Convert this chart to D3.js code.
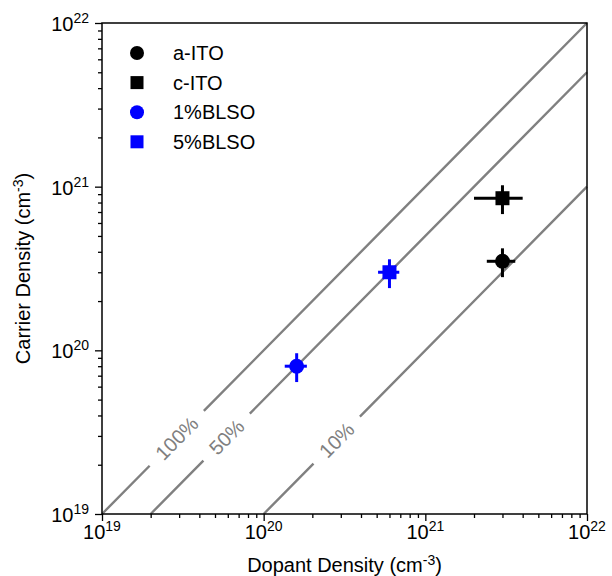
<!DOCTYPE html>
<html>
<head>
<meta charset="utf-8">
<script src="https://cdn.jsdelivr.net/npm/d3@7"></script>
<style>
  body { margin: 0; background: #fff; }
  svg { font-family: "Liberation Sans", Arial, sans-serif; }
</style>
</head>
<body>
<div id="chart"></div>
<script>
// data
const series = ["a-ITO", "c-ITO", "1%BLSO", "5%BLSO"];
const dopant = [3e21, 3e21, 1.6e20, 6e20];
const carrier = [3.5e20, 8.5e20, 8e19, 3e20];
const dopantErr = [0.6e21, 1e21, 0.25e20, 0.9e20];
const carrierErr = [0.7e20, 1.7e20, 1.6e19, 0.6e20];
const shapes = ["circle", "square", "circle", "square"];
const colors = ["#000000", "#000000", "#0000ff", "#0000ff"];

// activation ratio lines  (carrier = ratio * dopant)
const ratios = [1, 0.5, 0.1];
const ratioLabels = ["100%", "50%", "10%"];
const ratioLabelX = [2.9e19, 5.9e19, 2.83e20];

const majorTicks = [1e19, 1e20, 1e21, 1e22];
const tickExps = ["19", "20", "21", "22"];

const W = 612, H = 576;
const margin = {left: 102, right: 25, top: 23, bottom: 62};

const svg = d3.select("#chart").append("svg")
  .attr("width", W)
  .attr("height", H);

const x = d3.scaleLog().domain([1e19, 1e22]).range([margin.left, W - margin.right]);
const y = d3.scaleLog().domain([1e19, 1e22]).range([H - margin.bottom, margin.top]);

// minor ticks 2..9 in each decade
let minor = [];
majorTicks.slice(0, 3).forEach(m => {
  for (let k = 2; k <= 9; k++) minor.push(m * k);
});

// ratio lines with gaps for the inline labels
ratios.forEach((r, i) => {
  let x0 = Math.max(1e19, 1e19 / r);
  let p0 = {x: x(x0), y: y(r * x0)};
  let p1 = {x: x(1e22), y: y(r * 1e22)};
  let len = Math.hypot(p1.x - p0.x, p1.y - p0.y);
  let lc = {x: x(ratioLabelX[i]), y: y(r * ratioLabelX[i])};
  let pos = Math.hypot(lc.x - p0.x, lc.y - p0.y);
  let angle = Math.atan2(p1.y - p0.y, p1.x - p0.x) * 180 / Math.PI;

  let label = svg.append("text")
    .attr("transform", `translate(${lc.x},${lc.y}) rotate(${angle})`)
    .attr("text-anchor", "middle")
    .attr("dominant-baseline", "central")
    .attr("fill", "#808080")
    .style("font-size", "20px")
    .text(ratioLabels[i]);
  let gap = label.node().getComputedTextLength() + 26;

  svg.append("line")
    .attr("x1", p0.x).attr("y1", p0.y)
    .attr("x2", p1.x).attr("y2", p1.y)
    .attr("stroke", "#808080")
    .attr("stroke-width", 2.4)
    .attr("stroke-dasharray", `${pos - gap / 2} ${gap} ${len}`);
});

// axes
const xAxis = svg.append("g")
  .attr("transform", `translate(0,${H - margin.bottom})`)
  .call(d3.axisBottom(x).tickValues(majorTicks).tickFormat("").tickSize(7).tickSizeOuter(0));
const xMinor = svg.append("g")
  .attr("transform", `translate(0,${H - margin.bottom})`)
  .call(d3.axisBottom(x).tickValues(minor).tickFormat("").tickSize(4).tickSizeOuter(0));
const yAxis = svg.append("g")
  .attr("transform", `translate(${margin.left},0)`)
  .call(d3.axisLeft(y).tickValues(majorTicks).tickFormat("").tickSize(7).tickSizeOuter(0));
const yMinor = svg.append("g")
  .attr("transform", `translate(${margin.left},0)`)
  .call(d3.axisLeft(y).tickValues(minor).tickFormat("").tickSize(4).tickSizeOuter(0));

[xAxis, xMinor, yAxis, yMinor].forEach(g => {
  g.select(".domain").remove();
  g.selectAll(".tick line").attr("stroke", "#000").attr("stroke-width", 1.3);
});

// frame
svg.append("rect")
  .attr("x", x(1e19)).attr("y", y(1e22))
  .attr("width", x(1e22) - x(1e19))
  .attr("height", y(1e19) - y(1e22))
  .attr("fill", "none")
  .attr("stroke", "#000")
  .attr("stroke-width", 1.5);

// tick labels with superscript exponents
function powerLabel(sel) {
  sel.append("tspan").text("10");
  sel.append("tspan")
    .attr("dy", -8)
    .style("font-size", "14px")
    .text((d, i) => tickExps[i]);
}

svg.append("g").selectAll("text")
  .data(majorTicks).enter().append("text")
  .attr("x", d => x(d))
  .attr("y", H - margin.bottom + 25)
  .attr("text-anchor", "middle")
  .style("font-size", "20px")
  .call(powerLabel);

svg.append("g").selectAll("text")
  .data(majorTicks).enter().append("text")
  .attr("x", margin.left - 13)
  .attr("y", d => y(d) + 8)
  .attr("text-anchor", "end")
  .style("font-size", "20px")
  .call(powerLabel);

// axis titles
const xt = svg.append("text")
  .attr("x", (x(1e19) + x(1e22)) / 2)
  .attr("y", H - 4)
  .attr("text-anchor", "middle")
  .style("font-size", "20px");
xt.append("tspan").text("Dopant Density (cm");
xt.append("tspan").attr("dy", -7).style("font-size", "14px").text("-3");
xt.append("tspan").attr("dy", 7).text(")");

const yt = svg.append("text")
  .attr("transform", `translate(30,${(y(1e19) + y(1e22)) / 2}) rotate(-90)`)
  .attr("text-anchor", "middle")
  .style("font-size", "20px");
yt.append("tspan").text("Carrier Density (cm");
yt.append("tspan").attr("dy", -7).style("font-size", "14px").text("-3");
yt.append("tspan").attr("dy", 7).text(")");

// marker helper
function marker(g, shape, color, cx, cy, s) {
  if (shape === "circle") {
    g.append("circle").attr("cx", cx).attr("cy", cy).attr("r", s / 2).attr("fill", color);
  } else {
    g.append("rect").attr("x", cx - s / 2).attr("y", cy - s / 2)
      .attr("width", s).attr("height", s).attr("fill", color);
  }
}

// data points with error bars
const pts = svg.append("g");
series.forEach((name, i) => {
  let cx = x(dopant[i]), cy = y(carrier[i]);
  pts.append("line")
    .attr("x1", x(dopant[i] - dopantErr[i])).attr("x2", x(dopant[i] + dopantErr[i]))
    .attr("y1", cy).attr("y2", cy)
    .attr("stroke", colors[i]).attr("stroke-width", 3);
  pts.append("line")
    .attr("x1", cx).attr("x2", cx)
    .attr("y1", y(carrier[i] - carrierErr[i])).attr("y2", y(carrier[i] + carrierErr[i]))
    .attr("stroke", colors[i]).attr("stroke-width", 3);
  marker(pts, shapes[i], colors[i], cx, cy, shapes[i] === "circle" ? 15 : 14);
});

// legend
const legend = svg.append("g");
series.forEach((name, i) => {
  let ly = 53 + i * 29.6;
  marker(legend, shapes[i], colors[i], 137, ly, shapes[i] === "circle" ? 14 : 13);
  legend.append("text")
    .attr("x", 173)
    .attr("y", ly)
    .attr("dominant-baseline", "central")
    .style("font-size", "20px")
    .text(name);
});
</script>
</body>
</html>
